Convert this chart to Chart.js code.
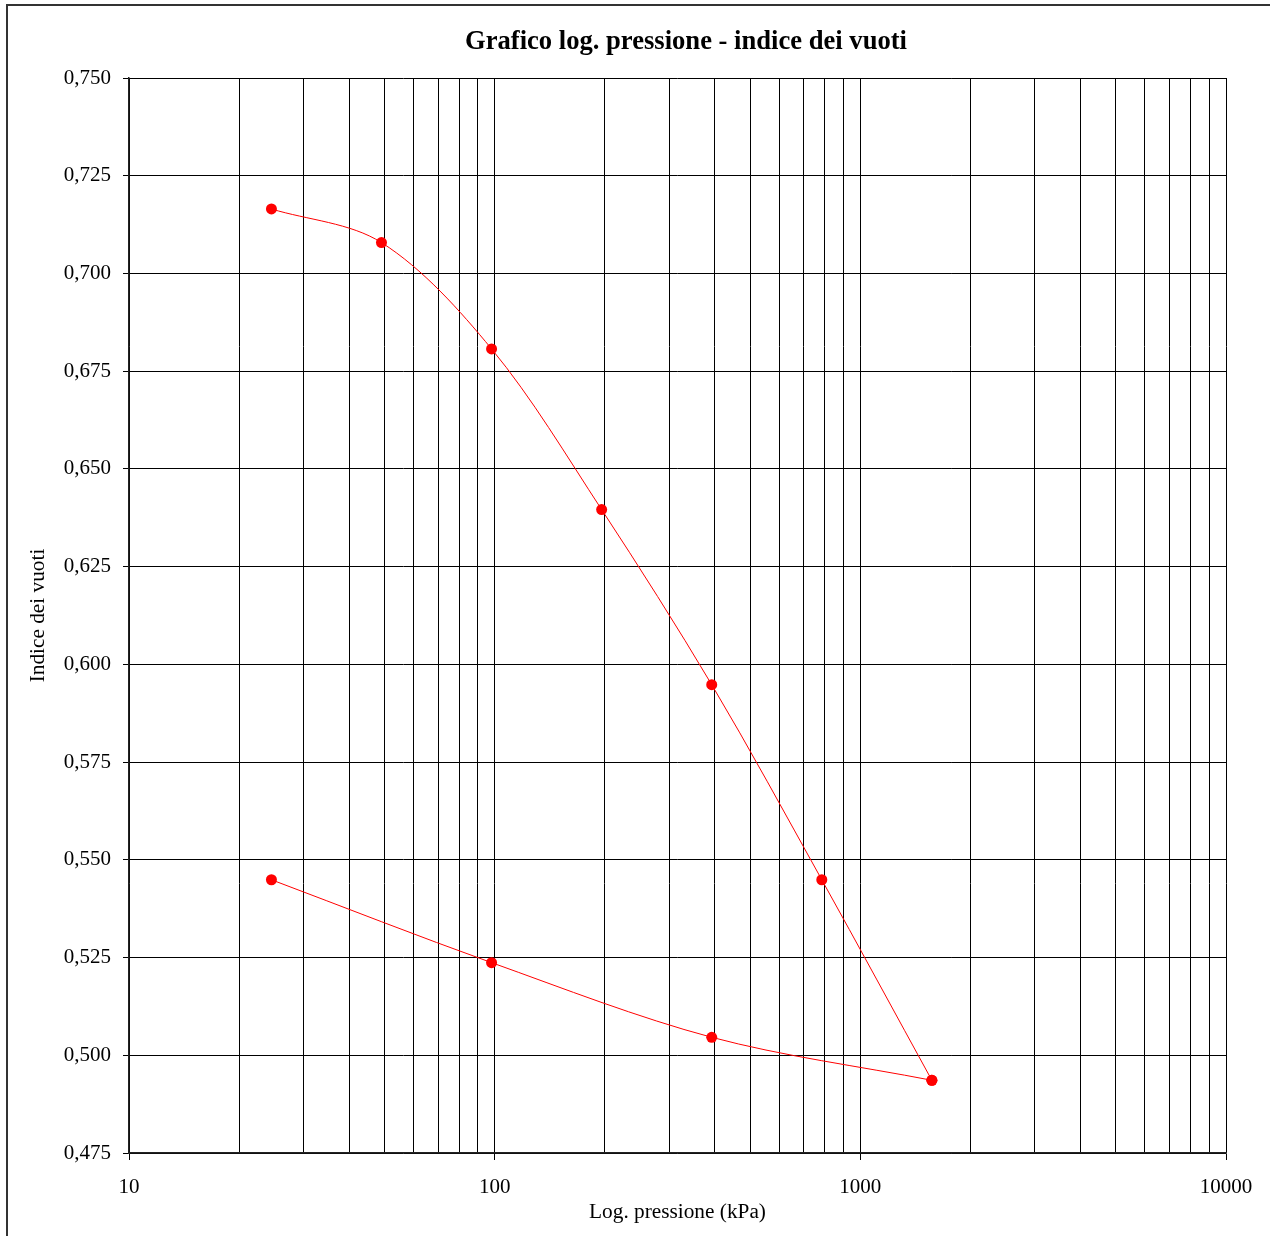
<!DOCTYPE html>
<html>
<head>
<meta charset="utf-8">
<script src="https://cdn.jsdelivr.net/npm/chart.js@4/dist/chart.umd.min.js"></script>
<style>
  html, body { margin: 0; padding: 0; background: #fff; overflow: hidden; }
  #wrap { position: relative; width: 1270px; height: 1236px; }
  #frame { position: absolute; left: 6px; top: 4px; width: 1400px; height: 1400px; border-left: 2px solid #333; border-top: 2px solid #333; }
  #chart { position: absolute; left: 0; top: 0; }
</style>
</head>
<body>
<div id="wrap">
  <div id="frame"></div>
  <canvas id="chart" width="1270" height="1236"></canvas>
</div>
<script>
const chartTitle = 'Grafico log. pressione - indice dei vuoti';
const xTitle = 'Log. pressione (kPa)';
const yTitle = 'Indice dei vuoti';

// carico
const loadP = [24.52, 49.03, 98.07, 196.13, 392.27, 784.53, 1569.06];
const loadE = [0.7165, 0.7079, 0.6807, 0.6396, 0.5948, 0.5449, 0.4936];
// scarico
const unloadP = [1569.06, 392.27, 98.07, 24.52];
const unloadE = [0.4936, 0.5046, 0.5237, 0.5449];

const xGrid = [10, 20, 30, 40, 50, 60, 70, 80, 90,
  100, 200, 300, 400, 500, 600, 700, 800, 900,
  1000, 2000, 3000, 4000, 5000, 6000, 7000, 8000, 9000, 10000];
const xLabels = [10, 100, 1000, 10000];

function toPoints(xs, ys) {
  const pts = [];
  for (let i = 0; i < xs.length; i++) {
    pts.push({ x: xs[i], y: ys[i] });
  }
  return pts;
}

function makeSeries(label, xs, ys) {
  return {
    label: label,
    data: toPoints(xs, ys),
    showLine: true,
    borderColor: '#ff0000',
    borderWidth: 1,
    backgroundColor: '#ff0000',
    pointBackgroundColor: '#ff0000',
    pointBorderWidth: 0,
    pointRadius: 5.5,
    tension: 0.33,
    fill: false
  };
}

const titlePlugin = {
  id: 'bigTitle',
  afterDraw(chart) {
    const ctx = chart.ctx;
    ctx.save();
    ctx.font = 'bold 26.6px "Liberation Serif", "Times New Roman", serif';
    ctx.fillStyle = '#000';
    ctx.textAlign = 'center';
    ctx.textBaseline = 'alphabetic';
    ctx.fillText(chartTitle, 686, 48.5);
    ctx.restore();
  }
};

const serif = '"Liberation Serif", "Times New Roman", serif';

new Chart(document.getElementById('chart'), {
  type: 'scatter',
  data: {
    datasets: [
      makeSeries('Carico', loadP, loadE),
      makeSeries('Scarico', unloadP, unloadE)
    ]
  },
  options: {
    responsive: false,
    animation: false,
    layout: { padding: { top: 78, right: 44, left: 0, bottom: 0 } },
    plugins: {
      legend: { display: false },
      tooltip: { enabled: false },
      title: { display: false }
    },
    scales: {
      x: {
        type: 'logarithmic',
        min: 10,
        max: 10000,
        afterBuildTicks: function(scale) {
          scale.ticks = xGrid.map(v => ({ value: v, major: xLabels.includes(v) }));
        },
        afterFit: function(scale) { scale.height = 83; },
        ticks: {
          autoSkip: false,
          maxRotation: 0,
          minRotation: 0,
          padding: 15,
          color: '#000',
          font: { family: serif, size: 21 },
          callback: function(value) {
            return xLabels.includes(value) ? String(value) : '';
          }
        },
        grid: {
          color: '#000',
          lineWidth: 1,
          tickLength: 7,
          tickColor: function(ctx) {
            return (ctx.tick && xLabels.includes(ctx.tick.value)) ? '#000' : 'rgba(0,0,0,0)';
          }
        },
        border: { color: '#222', width: 1.5 },
        title: {
          display: true,
          text: xTitle,
          color: '#000',
          font: { family: serif, size: 21.3 },
          padding: { top: 0, bottom: 11 }
        }
      },
      y: {
        type: 'linear',
        min: 0.475,
        max: 0.75,
        afterFit: function(scale) { scale.width = 129; },
        ticks: {
          stepSize: 0.025,
          padding: 12,
          color: '#000',
          font: { family: serif, size: 21 },
          callback: function(value) {
            return value.toFixed(3).replace('.', ',');
          }
        },
        grid: {
          color: '#000',
          lineWidth: 1,
          tickLength: 6,
          tickColor: '#000'
        },
        border: { color: '#222', width: 1.5 },
        title: {
          display: true,
          text: yTitle,
          color: '#000',
          font: { family: serif, size: 21.3 },
          padding: { top: 26, bottom: 0 }
        }
      }
    }
  },
  plugins: [titlePlugin]
});
</script>
</body>
</html>
